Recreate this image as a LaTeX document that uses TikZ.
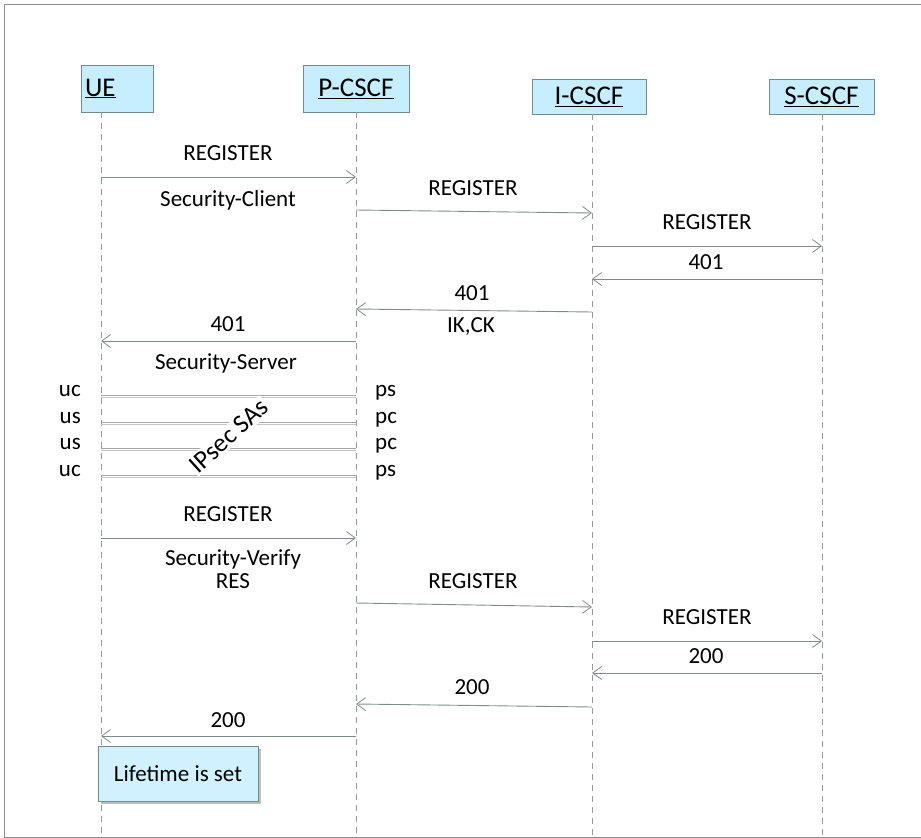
\documentclass[tikz,border=0pt]{standalone}
\usepackage{fontspec}
\setmainfont{Carlito}
\usetikzlibrary{arrows.meta,positioning,calc}
\definecolor{boxfill}{HTML}{C6EEFF}
\definecolor{boxline}{HTML}{728C8C}
\definecolor{msgline}{HTML}{7F8C8C}

\begin{document}
\begin{tikzpicture}[x=1pt, y=-1pt,
    head/.style={draw=boxline, fill=boxfill, line width=0.9pt, minimum height=47pt, inner sep=0pt, font=\fontsize{27}{31}\selectfont},
    life/.style={draw=gray!80, line width=0.8pt, dash pattern=on 6pt off 5pt},
    msg/.style={draw=msgline, line width=0.9pt, -{Straight Barb[length=9pt, width=13pt, line width=0.8pt]}},
    saline/.style={draw=gray!70, line width=0.7pt},
    lbl/.style={font=\fontsize{23}{27}\selectfont, inner sep=0pt, anchor=base},
    side/.style={font=\fontsize{23}{27}\selectfont, inner sep=0pt}
]
\useasboundingbox (0,0) rectangle (921,838);
\draw[gray!90, line width=0.9pt] (921,4) -- (4,4) -- (4,837) -- (921,837);

% headers
\node[head, minimum width=72pt, text width=64pt, align=left] (ue) at (117,88.5) {\underline{UE}};
\node[head, minimum width=106pt] (pc) at (356,88.5) {\underline{P-CSCF}};
\node[head, minimum width=114pt, minimum height=35pt] (ic) at (589,96.5) {\underline{I-CSCF}};
\node[head, minimum width=105pt, minimum height=35pt] (sc) at (821.5,96.5) {\underline{S-CSCF}};

% lifelines
\coordinate (ueT) at (101,112);  \coordinate (ueB) at (101,837);
\coordinate (pcT) at (356,112);  \coordinate (pcB) at (356,837);
\coordinate (icT) at (592,114);  \coordinate (icB) at (592,837);
\coordinate (scT) at (822,114);  \coordinate (scB) at (822,837);
\foreach \l in {ue,pc,ic,sc}
    \draw[life] (\l T) -- (\l B);

% first registration
\draw[msg] (ueT |- 0,177) -- (pcT |- 0,177);
\node[lbl] (r1) at (228,160) {REGISTER};
\node[lbl] (c1) at (228,206) {Security-Client};
\draw[msg] (pcT |- 0,210) -- (icT |- 0,213);
\node[lbl] (r2) at (473,195) {REGISTER};
\draw[msg] (icT |- 0,246) -- (scT |- 0,246);
\node[lbl] (r3) at (707,229) {REGISTER};
\draw[msg] (scT |- 0,279) -- (icT |- 0,279);
\node[lbl] (n1) at (706,269) {401};
\draw[msg] (icT |- 0,312) -- (pcT |- 0,309);
\node[lbl] (n2) at (472,300) {401};
\node[lbl] (k1) at (471,332) {IK,CK};
\draw[msg] (pcT |- 0,341) -- (ueT |- 0,341);
\node[lbl] (n3) at (228,331) {401};
\node[lbl] (s1) at (226,369) {Security-Server};

% security associations
\foreach \y/\a/\b in {395/uc/ps, 422/us/pc, 448/us/pc, 475/uc/ps} {
    \draw[saline] (ueT |- 0,\y) -- (pcT |- 0,\y);
    \draw[saline, gray!45] (ueT |- 0,\y+2.5) -- (pcT |- 0,\y+2.5);
    \node[side, anchor=base east] (u\y) at (81,\y+1) {\a};
    \node[side, anchor=base west] (p\y) at (375,\y+1) {\b};
}
\node[fill=white, inner sep=1.5pt, rotate=42, font=\fontsize{26}{30}\selectfont] (ipsec) at (229,436) {IPsec SAs};

% second registration
\draw[msg] (ueT |- 0,538) -- (pcT |- 0,538);
\node[lbl] (r4) at (228,521) {REGISTER};
\node[lbl] (v1) at (233,565) {Security-Verify};
\node[lbl] (v2) at (233,588) {RES};
\draw[msg] (pcT |- 0,603) -- (icT |- 0,607);
\node[lbl] (r5) at (473,588) {REGISTER};
\draw[msg] (icT |- 0,641) -- (scT |- 0,641);
\node[lbl] (r6) at (707,624) {REGISTER};
\draw[msg] (scT |- 0,673) -- (icT |- 0,673);
\node[lbl] (o1) at (706,663) {200};
\draw[msg] (icT |- 0,707) -- (pcT |- 0,704);
\node[lbl] (o2) at (472,694) {200};
\draw[msg] (pcT |- 0,736) -- (ueT |- 0,736);
\node[lbl] (o3) at (228,727) {200};

% lifetime note
\fill[gray!50] (101,749) rectangle (261,804);
\node[draw=boxline, fill=boxfill!80, line width=0.9pt, minimum width=160pt, minimum height=55pt, font=\fontsize{23}{27}\selectfont] (note) at (178,773.5) {Lifetime is set};
\end{tikzpicture}
\end{document}
